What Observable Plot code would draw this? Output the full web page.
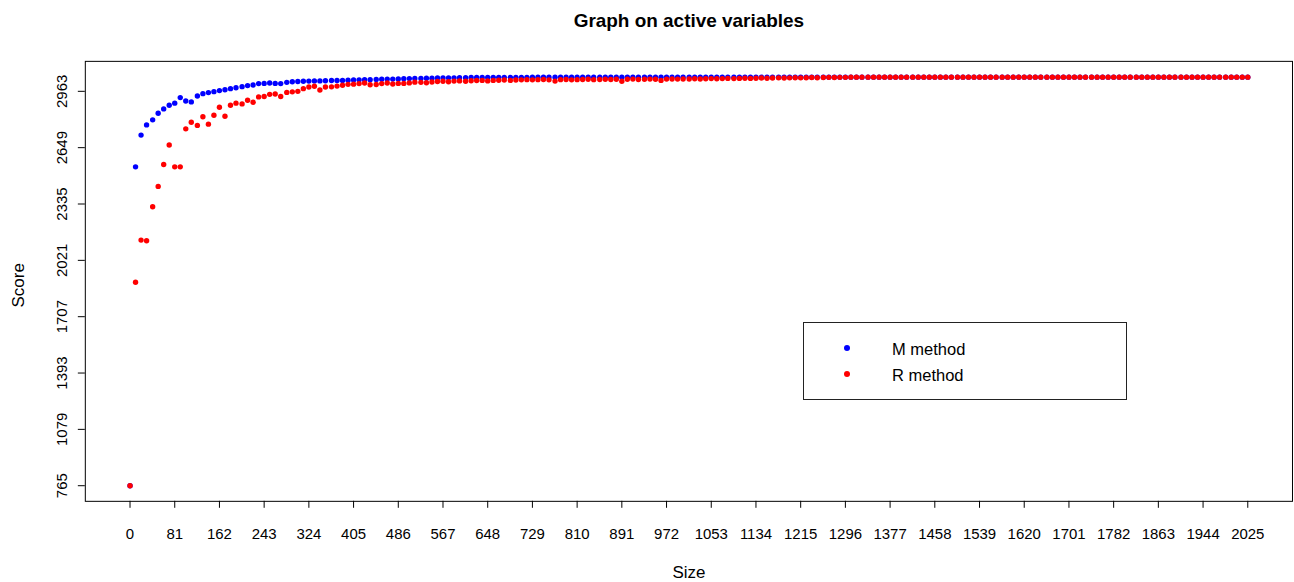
<!DOCTYPE html>
<html>
<head>
<meta charset="utf-8">
<script src="https://cdn.jsdelivr.net/npm/d3@7"></script>
<script src="https://cdn.jsdelivr.net/npm/@observablehq/plot@0.6"></script>
<style>
html, body { margin: 0; padding: 0; background: #fff; overflow: hidden; }
#wrap { position: relative; width: 1294px; height: 582px; overflow: hidden; }
#legend { position: absolute; left: 803px; top: 322px; width: 322px; height: 76px; border: 1px solid #222; background: #fff;
  font-family: "Liberation Sans", Arial, sans-serif; font-size: 16.5px; color: #000; }
.ldot { position: absolute; width: 6px; height: 6px; border-radius: 50%; }
.ltxt { position: absolute; line-height: 20px; white-space: nowrap; }
</style>
</head>
<body>
<div id="wrap"></div>
<script>
const title = "Graph on active variables";
const xLabel = "Size";
const yLabel = "Score";
const seriesNames = ["M method", "R method"];
const seriesColors = ["#0000ff", "#ff0000"];

const xTicks = [0,81,162,243,324,405,486,567,648,729,810,891,972,1053,1134,1215,1296,1377,1458,1539,1620,1701,1782,1863,1944,2025];
const yTicks = [765,1079,1393,1707,2021,2335,2649,2963];

const sizes = [
  0,10,20,30,41,51,61,71,
  81,91,101,111,122,132,142,152,
  162,172,182,192,203,213,223,233,
  243,253,263,273,284,294,304,314,
  324,334,344,354,365,375,385,395,
  405,415,425,435,446,456,466,476,
  486,496,506,516,527,537,547,557,
  567,577,587,597,608,618,628,638,
  648,658,668,678,689,699,709,719,
  729,739,749,759,770,780,790,800,
  810,820,830,840,851,861,871,881,
  891,901,911,921,932,942,952,962,
  972,982,992,1002,1013,1023,1033,1043,
  1053,1063,1073,1083,1094,1104,1114,1124,
  1134,1144,1154,1164,1175,1185,1195,1205,
  1215,1225,1235,1245,1256,1266,1276,1286,
  1296,1306,1316,1326,1337,1347,1357,1367,
  1377,1387,1397,1407,1418,1428,1438,1448,
  1458,1468,1478,1488,1499,1509,1519,1529,
  1539,1549,1559,1569,1580,1590,1600,1610,
  1620,1630,1640,1650,1661,1671,1681,1691,
  1701,1711,1721,1731,1742,1752,1762,1772,
  1782,1792,1802,1812,1823,1833,1843,1853,
  1863,1873,1883,1893,1904,1914,1924,1934,
  1944,1954,1964,1974,1985,1995,2005,2015,
  2025
];

const mScores = [
  765,2542,2719,2776,2804,2841,2865,2885,2897,2928,
  2909,2904,2937,2950,2956,2961,2967,2972,2978,2983,
  2989,2995,2998,3006,3007,3009,3007,3006,3013,3016,
  3018,3019,3020,3021,3021,3022,3023,3023,3024,3025,
  3026,3027,3028,3028,3029,3030,3031,3031,3032,3033,
  3034,3035,3035,3036,3036,3037,3037,3038,3038,3039,
  3039,3040,3040,3040,3040,3041,3041,3041,3041,3041,
  3041,3041,3042,3042,3042,3042,3042,3042,3042,3042,
  3042,3042,3042,3042,3042,3042,3042,3042,3042,3042,
  3042,3042,3042,3042,3042,3042,3042,3042,3042,3042,
  3042,3042,3042,3042,3042,3042,3042,3042,3042,3042,
  3042,3042,3042,3042,3042,3042,3042,3042,3042,3042,
  3042,3042,3042,3042,3042,3042,3042,3042,3042,3042,
  3042,3042,3042,3042,3042,3042,3042,3042,3042,3042,
  3042,3042,3042,3042,3042,3042,3042,3042,3042,3042,
  3042,3042,3042,3042,3042,3042,3042,3042,3042,3042,
  3042,3042,3042,3042,3042,3042,3042,3042,3042,3042,
  3042,3042,3042,3042,3042,3042,3042,3042,3042,3042,
  3042,3042,3042,3042,3042,3042,3042,3042,3042,3042,
  3042,3042,3042,3042,3042,3042,3042,3042,3042,3042,
  3042
];

const rScores = [
  765,1899,2134,2130,2320,2433,2555,2664,2542,2542,
  2754,2791,2773,2821,2780,2830,2874,2824,2885,2897,
  2893,2913,2902,2932,2934,2946,2948,2934,2957,2960,
  2963,2978,2987,2991,2970,2987,2988,2992,2997,3002,
  3003,3006,3009,3000,3001,3006,3009,3004,3007,3007,
  3010,3014,3013,3011,3015,3018,3019,3016,3020,3021,
  3019,3022,3023,3024,3021,3024,3025,3026,3024,3026,
  3027,3028,3027,3028,3029,3027,3020,3028,3029,3027,
  3028,3029,3030,3028,3029,3030,3029,3030,3019,3030,
  3031,3029,3030,3031,3030,3024,3031,3032,3031,3032,
  3032,3033,3032,3033,3034,3033,3034,3035,3034,3035,
  3036,3035,3036,3037,3036,3037,3038,3037,3038,3039,
  3038,3039,3040,3039,3040,3041,3040,3041,3041,3042,
  3042,3042,3042,3042,3042,3042,3042,3042,3042,3042,
  3042,3042,3042,3042,3042,3042,3042,3042,3042,3042,
  3042,3042,3042,3042,3042,3042,3042,3042,3042,3042,
  3042,3042,3042,3042,3042,3042,3042,3042,3042,3042,
  3042,3042,3042,3042,3042,3042,3042,3042,3042,3042,
  3042,3042,3042,3042,3042,3042,3042,3042,3042,3042,
  3042,3042,3042,3042,3042,3042,3042,3042,3042,3042,
  3042
];

const mData = sizes.map((s, i) => ({size: s, score: mScores[i]}));
const rData = sizes.map((s, i) => ({size: s, score: rScores[i]}));

const font = "Liberation Sans, Arial, Helvetica, sans-serif";

const chart = Plot.plot({
  width: 1297,
  height: 582,
  marginLeft: 85,
  marginRight: 2,
  marginTop: 61,
  marginBottom: 80,
  style: {fontFamily: font, fontSize: "15px", background: "#fff", color: "#000", overflow: "visible"},
  x: {domain: [-81, 2106], ticks: xTicks, tickSize: 7, tickFormat: () => "", label: null},
  y: {domain: [678, 3130], ticks: yTicks, tickSize: 7, tickFormat: () => "", label: null},
  marks: [
    Plot.frame({stroke: "#000", strokeWidth: 1}),
    Plot.dot(mData, {x: "size", y: "score", r: 2.7, fill: seriesColors[0], stroke: "none"}),
    Plot.dot(rData, {x: "size", y: "score", r: 2.7, fill: seriesColors[1], stroke: "none"}),
    Plot.text(xTicks, {x: d => d, frameAnchor: "bottom", dy: 33, text: d => String(d), textAnchor: "middle", lineAnchor: "middle", fontSize: 15, fill: "#000"}),
    Plot.text(yTicks, {y: d => d, frameAnchor: "left", dx: -23, rotate: -90, text: d => String(d), textAnchor: "middle", lineAnchor: "middle", fontSize: 15, fill: "#000"}),
    Plot.text([title], {frameAnchor: "top", dy: -41, text: d => d, textAnchor: "middle", lineAnchor: "middle", fontSize: 19, fontWeight: "bold", fill: "#000"}),
    Plot.text([xLabel], {frameAnchor: "bottom", dy: 71, text: d => d, textAnchor: "middle", lineAnchor: "middle", fontSize: 17, fill: "#000"}),
    Plot.text([yLabel], {frameAnchor: "left", dx: -67, dy: 4, rotate: -90, text: d => d, textAnchor: "middle", lineAnchor: "middle", fontSize: 17, fill: "#000"})
  ]
});

const wrap = document.getElementById("wrap");
wrap.appendChild(chart);

const legend = document.createElement("div");
legend.id = "legend";
seriesNames.forEach((name, i) => {
  const dot = document.createElement("div");
  dot.className = "ldot";
  dot.style.background = seriesColors[i];
  dot.style.left = (43 - 3) + "px";
  dot.style.top = (25 + i * 26 - 3) + "px";
  legend.appendChild(dot);
  const t = document.createElement("div");
  t.className = "ltxt";
  t.textContent = name;
  t.style.left = "88px";
  t.style.top = (26 + i * 26 - 10) + "px";
  legend.appendChild(t);
});
wrap.appendChild(legend);
</script>
</body>
</html>
